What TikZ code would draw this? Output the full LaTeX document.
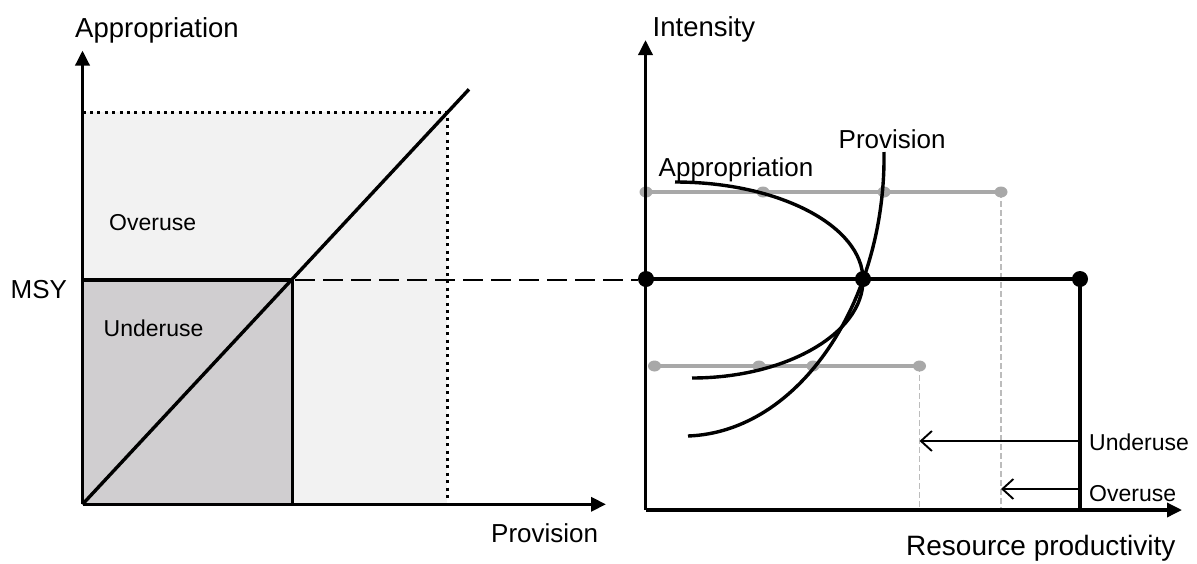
\documentclass[tikz,border=0pt]{standalone}
\usepackage{fontspec}
\setmainfont{Liberation Sans}
\usetikzlibrary{arrows.meta,shapes.geometric}
\definecolor{lightfill}{RGB}{242,242,242}
\definecolor{darkfill}{RGB}{208,206,208}
\definecolor{lgrey}{RGB}{168,168,168}
\definecolor{dgrey}{RGB}{188,188,188}
\begin{document}
\begin{tikzpicture}[x=1pt,y=-1pt,
  axis/.style={line width=3.4pt,-{Triangle[length=15pt,width=14pt]}},
  mainln/.style={line width=3.4pt},
  dotln/.style={line width=3pt,dash pattern=on 3pt off 4.4pt},
  blkdash/.style={line width=2.6pt,dash pattern=on 20pt off 8pt},
  greyln/.style={line width=3.4pt,draw=lgrey},
  greydash/.style={line width=1.6pt,draw=dgrey,dash pattern=on 6pt off 3pt},
  bdot/.style={circle,fill=black,inner sep=0pt,minimum size=16pt},
  gdot/.style={ellipse,fill=lgrey,inner sep=0pt,minimum width=13pt,minimum height=11pt},
  biglab/.style={font=\fontsize{27.5}{30}\selectfont,inner sep=0pt,anchor=base west},
  midlab/.style={font=\fontsize{26}{29}\selectfont,inner sep=0pt,anchor=base west},
  smalllab/.style={font=\fontsize{23}{26}\selectfont,inner sep=0pt,anchor=base west},
  usearrow/.style={line width=1.9pt,-{Straight Barb[length=11pt,width=20pt]}}
]
\useasboundingbox (0,0) rectangle (1197,563);

% ---------- left panel ----------
\coordinate (O) at (82.5,504.3);
\coordinate (Ytop) at (82.5,50.5);
\coordinate (Xend) at (606,504.3);
\coordinate (Mleft) at (82.5,280);
\coordinate (Mk) at (292.5,280);
\coordinate (Mkb) at (292.5,504.3);
\coordinate (Dtl) at (82.5,112.3);
\coordinate (Dtr) at (447.3,112.3);
\coordinate (Dbr) at (447.3,500);
\coordinate (Diag) at (469,89.3);
\coordinate (Dstart) at (295,280);
\coordinate (Dend) at (638,280);

\fill[lightfill] (O) rectangle (Dtr);
\fill[darkfill] (O) rectangle (Mk);
\draw[dotln] (Dtl) -- (Dtr) -- (Dbr);
\draw[mainln] (O) -- (Diag);
\draw[mainln] (Mleft) -- (Mk) -- (Mkb);
\draw[blkdash] (Dstart) -- (Dend);
\draw[axis] (O) -- (Ytop);
\draw[axis] (O) -- (Xend);

\node[biglab] (lapp) at (75,37.7) {Appropriation};
\node[midlab] (lmsy) at (10.5,298) {MSY};
\node[smalllab] (lover) at (109,230) {Overuse};
\node[smalllab] (lunder) at (103.5,336) {Underuse};
\node[midlab] (lprov) at (491,542) {Provision};

% ---------- right panel ----------
\coordinate (RO) at (645.5,510);
\coordinate (RYtop) at (645.5,40);
\coordinate (RXend) at (1182,510);
\coordinate (Vb) at (1080,510);
\coordinate (Gtb) at (1001,510);
\coordinate (Glb) at (919.5,510);
\coordinate (Ua) at (1080,441);
\coordinate (Ub) at (919.5,441);
\coordinate (Oa) at (1080,489);
\coordinate (Ob) at (1001,489);

% grey dashed verticals
\draw[greydash] (1001,192) -- (Gtb);
\draw[greydash] (919.5,366) -- (Glb);

% grey horizontal lines
\draw[greyln] (646,192) -- (1001,192);
\draw[greyln] (654.5,366) -- (919.5,366);
\node[gdot] (g1) at (646,192) {};
\node[gdot] (g2) at (763,192) {};
\node[gdot] (g3) at (884,192) {};
\node[gdot] (g4) at (1001,192) {};
\node[gdot] (g5) at (654.5,366) {};
\node[gdot] (g6) at (759,366) {};
\node[gdot] (g7) at (813,366) {};
\node[gdot] (g8) at (919.5,366) {};

% black MSY line
\draw[mainln] (646,279) -- (1080,279) -- (Vb);

% curves
\draw[mainln] (675,182) .. controls (779,182) and (863,226) .. (863,280)
              .. controls (863,334) and (785,378) .. (692,378);
\draw[mainln] (884,152) .. controls (886,300) and (800,432) .. (688,436);

\node[bdot] (b1) at (646,279) {};
\node[bdot] (b2) at (863,279) {};
\node[bdot] (b3) at (1080,279) {};

% arrows
\draw[usearrow] (Ua) -- (Ub);
\draw[usearrow] (Oa) -- (Ob);

% axes
\draw[axis] (RO) -- (RYtop);
\draw[axis] (RO) -- (RXend);

\node[biglab] (rint) at (652.5,36) {Intensity};
\node[midlab] (rprov) at (838.5,148) {Provision};
\node[midlab] (rapp) at (658.5,176.5) {Appropriation};
\node[smalllab] (runder) at (1089,450) {Underuse};
\node[smalllab] (rover) at (1089,501) {Overuse};
\node[font=\fontsize{28}{31}\selectfont,inner sep=0pt,anchor=base west] (rres) at (906,555.5) {Resource productivity};
\end{tikzpicture}
\end{document}
